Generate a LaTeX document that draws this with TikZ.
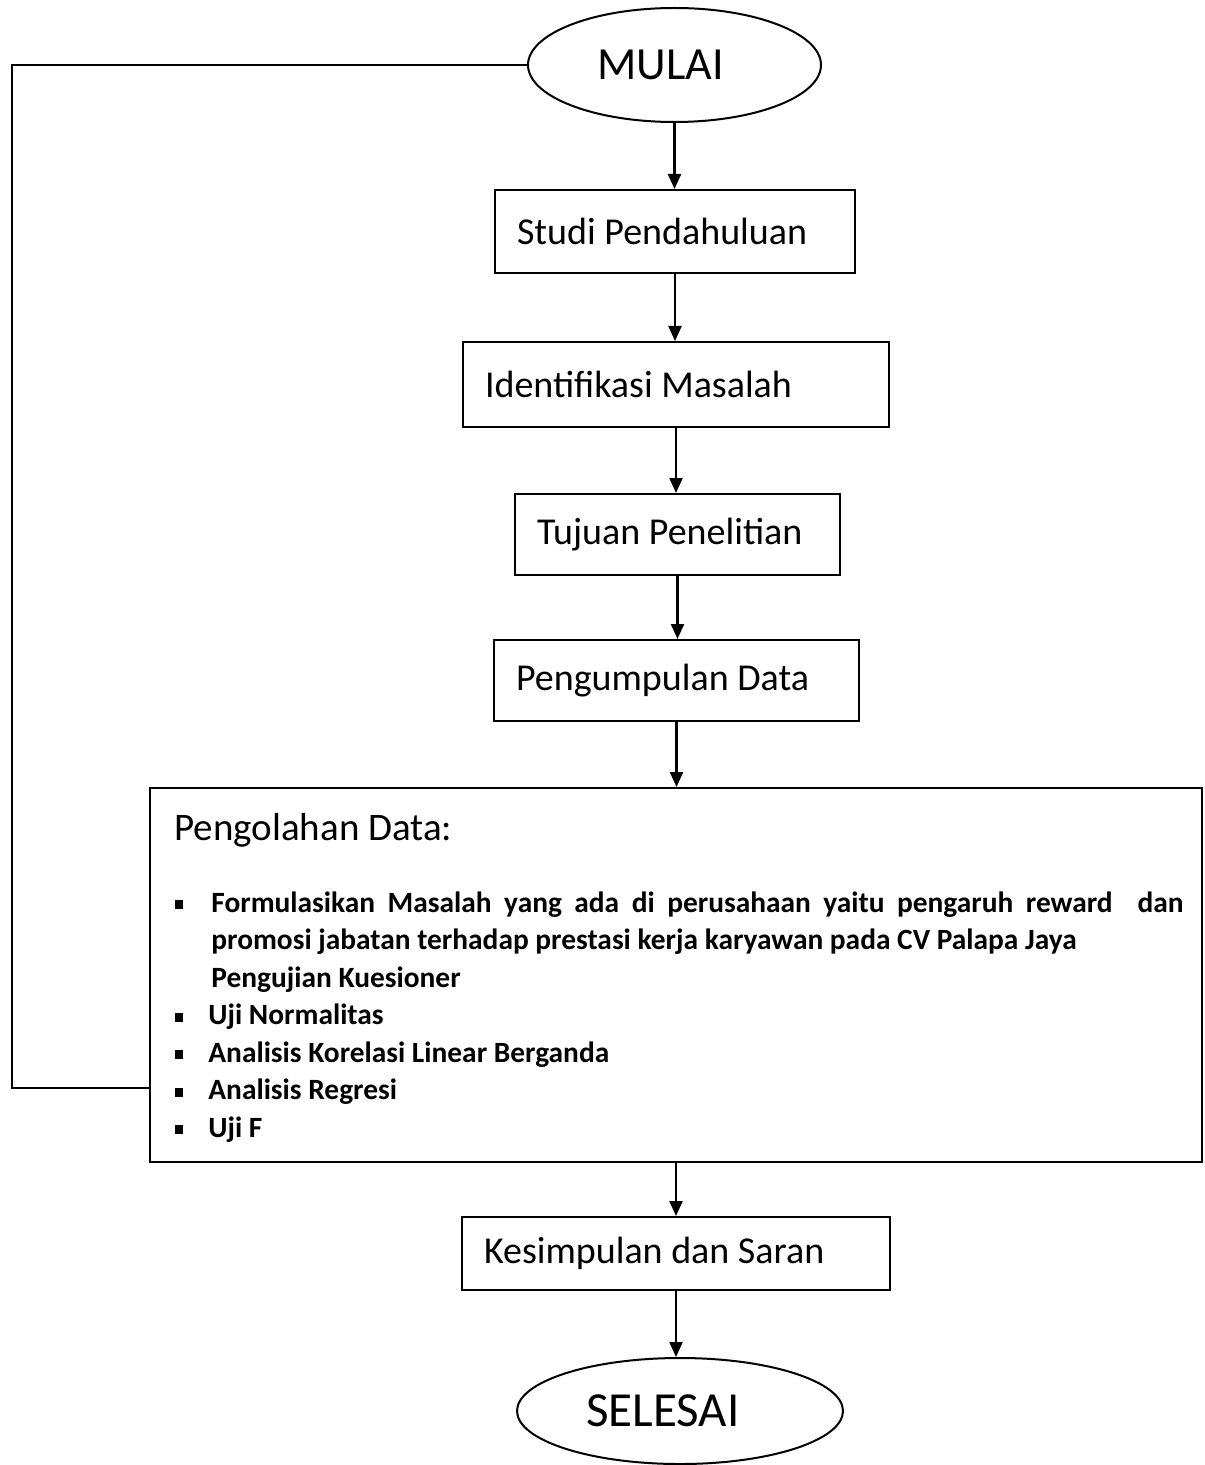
\documentclass[tikz,border=0pt]{standalone}
\usepackage{fontspec}
\setmainfont{Carlito}
\usetikzlibrary{arrows.meta,shapes.geometric}
\newcommand\blt{\rule[1.3pt]{4pt}{4.6pt}}
\newcommand\bk{\leavevmode\kern-1.5pt}
\begin{document}
\begin{tikzpicture}[x=0.5pt,y=-0.5pt,
  box/.style={draw,line width=1pt,rectangle,inner xsep=11pt,inner ysep=0pt,align=flush left,font=\fontsize{19}{23}\selectfont},
  term/.style={draw,line width=1pt,ellipse,inner sep=0pt,font=\fontsize{23}{28}\selectfont},
  arr/.style={line width=1.1pt,-{Triangle[width=6.5pt,length=7.5pt]}},
  link/.style={line width=1.1pt}]
\useasboundingbox[fill=white] (0,0) rectangle (1204,1465);
\node[term,minimum width=146.5pt,minimum height=57pt] (mulai) at (674.5,65) {MULAI\kern14pt};
\node[box,text width=158pt,minimum height=41.5pt] (studi) at (675,231.5) {Studi Pendahuluan};
\node[box,text width=191pt,minimum height=42.5pt] (ident) at (676,384.5) {Identifikasi Masalah};
\node[box,text width=140.5pt,minimum height=40.5pt] (tujuan) at (677.5,534.5) {Tujuan Penelitian};
\node[box,text width=160.5pt,minimum height=40.5pt] (kumpul) at (676.5,680.5) {Pengumpulan Data};
\node[draw,line width=1pt,rectangle,inner sep=0pt,minimum width=526pt,minimum height=187pt] (olah) at (676,975) {};
\node[anchor=base west,inner sep=0pt,font=\fontsize{19.5}{23}\selectfont] (judul) at (174,840) {Pengolahan Data:};
\node[anchor=base west,inner sep=0pt] (daftar) at (175,912) {\fontsize{14.7}{18.75}\selectfont\bfseries
\begin{tabular}[t]{@{}p{18pt}@{}p{486pt}@{}}
\blt & Formulasikan Masalah yang ada di perusahaan yaitu pengaruh reward\ \ dan\linebreak promosi jabatan terhadap prestasi kerja karyawan pada CV Palapa Jaya\newline Pengujian Kuesioner\\
\blt & \bk Uji Normalitas\\
\blt & \bk Analisis Korelasi Linear Berganda\\
\blt & \bk Analisis Regresi\\
\blt & \bk Uji F
\end{tabular}};
\node[box,text width=192pt,minimum height=36.5pt] (simpul) at (676,1253.5) {Kesimpulan dan Saran};
\node[term,minimum width=163pt,minimum height=53pt,font=\fontsize{24.5}{29}\selectfont] (selesai) at (680,1411) {SELESAI\kern17pt};
\draw[arr] (mulai.south) -- (mulai.south |- studi.north);
\draw[arr] (studi.south) -- (studi.south |- ident.north);
\draw[arr] (ident.south) -- (ident.south |- tujuan.north);
\draw[arr] (tujuan.south) -- (tujuan.south |- kumpul.north);
\draw[arr] (kumpul.south) -- (kumpul.south |- olah.north);
\draw[arr] (simpul.north |- olah.south) -- (simpul.north);
\draw[arr] (simpul.south) -- (simpul.south |- selesai.north);
\coordinate (putar) at (12,1088);
\draw[link] (mulai.west) -| (putar) -- (olah.west |- putar);
\end{tikzpicture}
\end{document}
